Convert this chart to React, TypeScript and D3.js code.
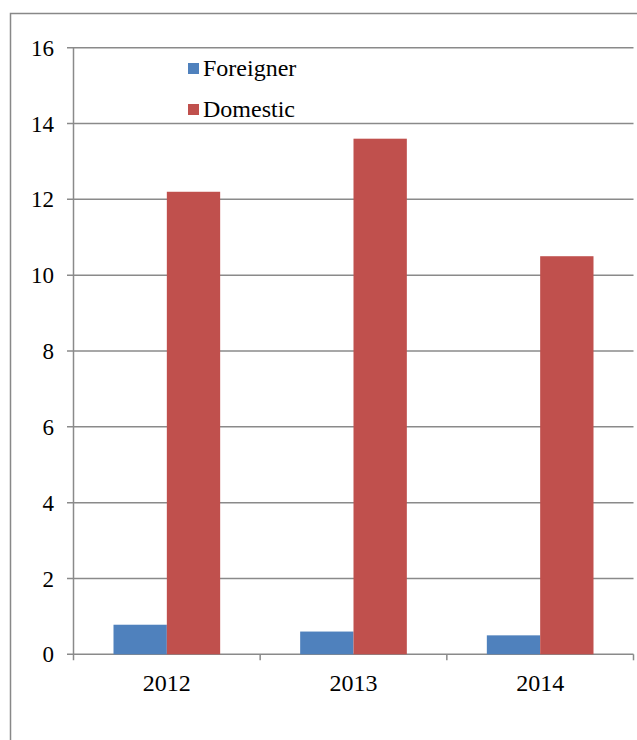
import React from "react";
import * as d3 from "d3";

const years = ["2012", "2013", "2014"];
const seriesNames = ["Foreigner", "Domestic"];
const foreigner = [0.78, 0.6, 0.5];
const domestic = [12.2, 13.6, 10.5];
const yTicks = [0, 2, 4, 6, 8, 10, 12, 14, 16];
const colors = ["#4F81BD", "#C0504D"];

const font = "Liberation Serif, Times New Roman, serif";

export default function App() {
  const W = 637, H = 740;
  const left = 73.5, right = 633.5, top = 47.7, bottom = 654.3;
  const x = d3.scaleBand().domain(years).range([left, right]).paddingInner(0).paddingOuter(0);
  const y = d3.scaleLinear().domain([0, 16]).range([bottom, top]);
  const bw = x.bandwidth() / 3.5;
  const series = [foreigner, domestic];
  const grid = "#8a8a8a";
  return (
    <svg width={W} height={H} style={{ position: "absolute", left: 0, top: 0 }}>
      <rect x={0} y={0} width={W} height={H} fill="#fff" />
      <path d={`M10.5,${H + 5} V13.5 H${W + 5}`} fill="none" stroke="#888" strokeWidth={1.5} />
      {yTicks.map((t) => (
        <g key={t}>
          <line x1={67} x2={right} y1={y(t)} y2={y(t)} stroke={grid} strokeWidth={1.5} />
          <text x={54} y={y(t)} dy="0.35em" textAnchor="end" fontSize={23} fill="#000" fontFamily={font}>
            {t}
          </text>
        </g>
      ))}
      <line x1={left} x2={left} y1={top} y2={bottom + 6} stroke={grid} strokeWidth={1.5} />
      {years.map((yr) => (
        <line key={"t" + yr} x1={(x(yr) as number) + x.bandwidth()} x2={(x(yr) as number) + x.bandwidth()} y1={bottom} y2={bottom + 6} stroke={grid} strokeWidth={1.5} />
      ))}
      {series.map((vals, s) =>
        vals.map((v, i) => {
          const cx = (x(years[i]) as number) + x.bandwidth() / 2;
          const bx = cx - bw + s * bw;
          return (
            <rect key={s + "-" + i} x={bx} y={y(v)} width={bw} height={bottom - y(v)} fill={colors[s]} />
          );
        })
      )}
      {years.map((yr) => (
        <text key={yr} x={(x(yr) as number) + x.bandwidth() / 2} y={691} textAnchor="middle" fontSize={24} fill="#000" fontFamily={font}>
          {yr}
        </text>
      ))}
      {seriesNames.map((n, i) => (
        <g key={n}>
          <rect x={188} y={63 + i * 41} width={11} height={11} fill={colors[i]} />
          <text x={203} y={76 + i * 41} fontSize={24} fill="#000" fontFamily={font}>
            {n}
          </text>
        </g>
      ))}
    </svg>
  );
}
